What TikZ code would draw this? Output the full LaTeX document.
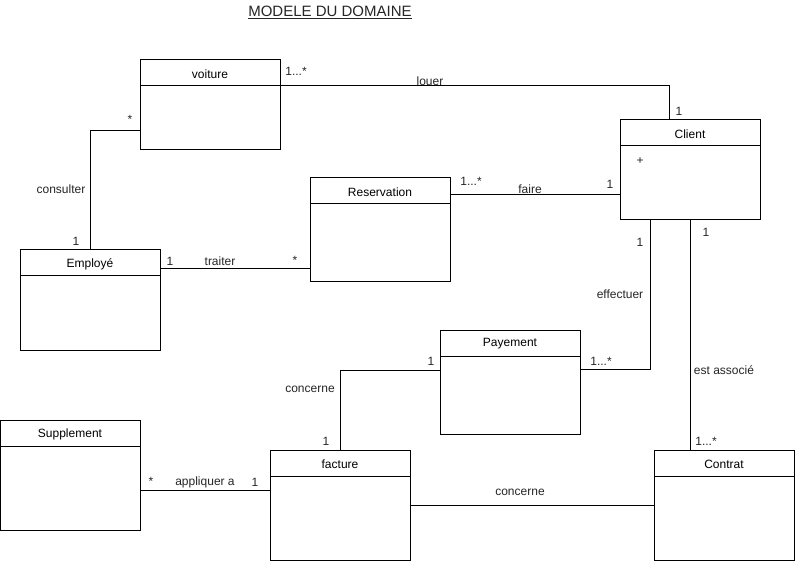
\documentclass[tikz,border=0pt]{standalone}
\usepackage{fontspec}
\setmainfont{Liberation Sans}
\usetikzlibrary{calc}
\begin{document}
\begin{tikzpicture}[x=1pt,y=-1pt,
  cls/.style={draw,line width=1pt,inner sep=0pt,outer sep=0pt,anchor=north west,minimum width=140pt},
  ctitle/.style={font=\fontsize{12}{14}\selectfont,inner sep=0pt},
  lbl/.style={font=\fontsize{12}{14}\selectfont,inner sep=0pt,text=black!85},
  conn/.style={line width=1pt}]
\useasboundingbox[fill=white] (0,0) rectangle (795,561);
\newcommand{\umlbox}[6]{% name, x, y, h, title
  \node[cls,minimum height=#4pt] (#1) at (#2,#3) {};
  \node[ctitle] (#1t) at ($(#1.north)+(0,14)$) {#5};
  \draw[line width=1pt] ($(#1.north west)+(0,26)$) -- ($(#1.north east)+(0,26)$);
}
\node[font=\fontsize{15}{17}\selectfont,inner sep=0pt,text=black!85] (title) at (330,12) {\underline{MODELE DU DOMAINE}};
\umlbox{voiture}{140}{60}{90}{voiture}{}
\umlbox{client}{620}{120}{100}{Client}{}
\umlbox{reservation}{310}{178}{104}{Reservation}{}
\umlbox{employe}{20}{250}{100}{Employé}{}
\umlbox{payement}{440}{330}{104}{Payement}{}
\umlbox{supplement}{0}{420}{110}{Supplement}{}
\umlbox{facture}{270}{450}{110}{facture}{}
\umlbox{contrat}{654}{450}{110}{Contrat}{}
\node[lbl] (plus) at (640,161) {+};
% louer
\coordinate (louerA) at ($(voiture.north east)+(0,26)$);
\coordinate (louerB) at ($(client.north)+(-21,0)$);
\draw[conn] (louerA) -| (louerB);
\node[lbl] (louer) at (430,81) {louer};
\node[lbl] (m1) at (296,71) {1...*};
\node[lbl] (m2) at (679,111) {1};
% consulter
\coordinate (consA) at ($(voiture.north west)+(0,71)$);
\draw[conn] (consA) -| (employe.north);
\node[lbl] (consulter) at (61,189) {consulter};
\node[lbl] (m3) at (130,119) {*};
\node[lbl] (m4) at (76,241) {1};
% faire
\coordinate (faireA) at ($(reservation.north east)+(0,17)$);
\draw[conn] (faireA) -- (faireA -| client.west);
\node[lbl] (faire) at (530,189) {faire};
\node[lbl] (m5) at (471,181) {1...*};
\node[lbl] (m6) at (610,184) {1};
% traiter
\coordinate (traA) at ($(employe.north east)+(0,19)$);
\draw[conn] (traA) -- (traA -| reservation.west);
\node[lbl] (traiter) at (220,261) {traiter};
\node[lbl] (m7) at (170,261) {1};
\node[lbl] (m8) at (295,260) {*};
% effectuer
\coordinate (effA) at ($(client.south)+(-40,0)$);
\coordinate (effB) at ($(payement.north east)+(0,39)$);
\draw[conn] (effA) |- (effB);
\node[lbl] (effectuer) at (620,294) {effectuer};
\node[lbl] (m9) at (640,242) {1};
\node[lbl] (m10) at (601,361) {1...*};
% est associe
\draw[conn] (client.south) -- (client.south |- contrat.north);
\node[lbl] (estassoc) at (724,370) {est associé};
\node[lbl] (m11) at (706,232) {1};
\node[lbl] (m12) at (706,441) {1...*};
% concerne facture-payement
\coordinate (concB) at ($(payement.north west)+(0,40)$);
\draw[conn] (facture.north) |- (concB);
\node[lbl] (concerne1) at (310,389) {concerne};
\node[lbl] (m13) at (326,441) {1};
\node[lbl] (m14) at (431,361) {1};
% appliquer a
\coordinate (appA) at ($(supplement.north east)+(0,70)$);
\draw[conn] (appA) -- (appA -| facture.west);
\node[lbl] (appliquer) at (205,482) {appliquer a};
\node[lbl] (m15) at (151,481) {*};
\node[lbl] (m16) at (255,482) {1};
% concerne facture-contrat
\coordinate (conc2A) at ($(facture.north east)+(0,55)$);
\draw[conn] (conc2A) -- (conc2A -| contrat.west);
\node[lbl] (concerne2) at (520,492) {concerne};
\end{tikzpicture}
\end{document}
